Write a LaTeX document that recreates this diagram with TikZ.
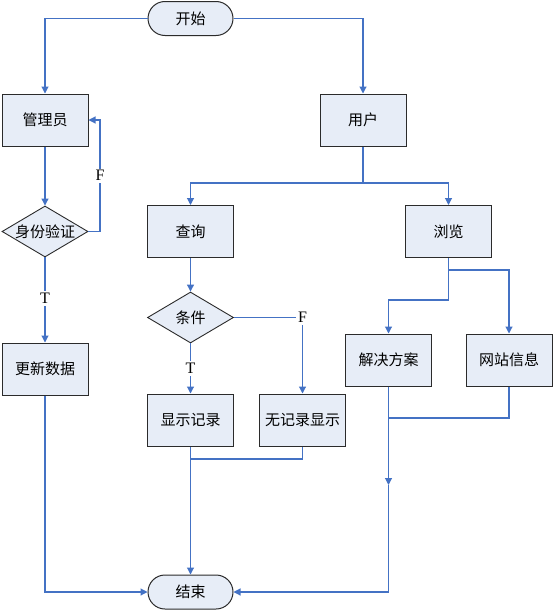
\documentclass[tikz,border=0pt]{standalone}
\usepackage{fontspec}
\setmainfont{Liberation Serif}
\newfontfamily\cjk{Noto Sans CJK SC}
\usetikzlibrary{arrows.meta,shapes.geometric,shapes.misc}
\definecolor{lineblue}{HTML}{4472C4}
\definecolor{boxfill}{HTML}{E7EDF7}
\definecolor{boxline}{HTML}{2B2B2B}
\tikzset{
  txt/.style={font=\cjk\fontsize{15}{15}\selectfont},
  box/.style={txt,draw=boxline,fill=boxfill,line width=1pt,minimum width=86pt,minimum height=52pt,inner sep=0pt},
  term/.style={txt,draw=boxline,fill=boxfill,line width=1pt,rounded rectangle,minimum width=85pt,minimum height=34pt,inner sep=0pt},
  dec/.style={txt,draw=boxline,fill=boxfill,line width=0.9pt,diamond,aspect=1.68,minimum width=86pt,minimum height=51pt,inner sep=0pt},
  flow/.style={draw=lineblue,line width=1.1pt,-{Triangle[width=7pt,length=7pt]}},
  plain/.style={draw=lineblue,line width=1.1pt},
  lab/.style={fill=white,inner sep=2pt,font=\fontsize{16}{16}\selectfont}
}
\begin{document}
\begin{tikzpicture}[x=1pt,y=-1pt]
\useasboundingbox (0,0) rectangle (554,613);
\node[term] (start) at (190.5,18.5) {开始};
\node[box] (admin) at (45,120) {管理员};
\node[dec] (auth) at (45,231.5) {身份验证};
\node[box] (update) at (45,369) {更新数据};
\node[box] (user) at (363,120) {用户};
\node[box] (query) at (190.5,231.5) {查询};
\node[box] (browse) at (448.5,231.5) {浏览};
\node[dec] (cond) at (190.5,317.5) {条件};
\node[box] (show) at (190.5,420) {显示记录};
\node[box] (noshow) at (302.5,420) {无记录显示};
\node[box] (solve) at (388.5,360) {解决方案};
\node[box] (site) at (509,360) {网站信息};
\node[term] (end) at (190.5,592) {结束};

\coordinate (fl) at (100,0);
\coordinate (ub) at (0,183);
\coordinate (bb) at (0,270);
\coordinate (bs) at (0,300);
\coordinate (jm) at (0,459);
\coordinate (sm) at (0,418);
\coordinate (mid) at (0,485);

\path[flow] (start.west) -| (admin.north);
\path[flow] (start.east) -| (user.north);
\path[flow] (admin.south) -- (auth.north);
\path[flow] (auth.east) -| (fl |- auth.east) |- (admin.east) node[lab,pos=0.25] {F};
\path[flow] (auth.south) -- node[lab,pos=0.48] {T} (update.north);
\path[flow] (update.south) |- (end.west);

\path[plain] (user.south) -- (user.south |- ub);
\path[flow] (user.south |- ub) -| (query.north);
\path[flow] (user.south |- ub) -| (browse.north);
\path[flow] (query.south) -- (cond.north);
\path[flow] (cond.south) -- node[lab,pos=0.5] {T} (show.north);
\path[flow] (cond.east) -| node[lab,pos=0.5] {F} (noshow.north);
\path[flow] (show.south) -- (end.north);
\path[plain] (noshow.south) |- (show.south |- jm);

\path[plain] (browse.south) -- (browse.south |- bs);
\path[flow] (browse.south |- bs) -| (solve.north);
\path[flow] (browse.south |- bb) -| (site.north);
\path[plain] (site.south) |- (solve.south |- sm);
\path[flow] (solve.south) -- (solve.south |- mid);
\path[flow] (solve.south |- mid) |- (end.east);
\end{tikzpicture}
\end{document}
